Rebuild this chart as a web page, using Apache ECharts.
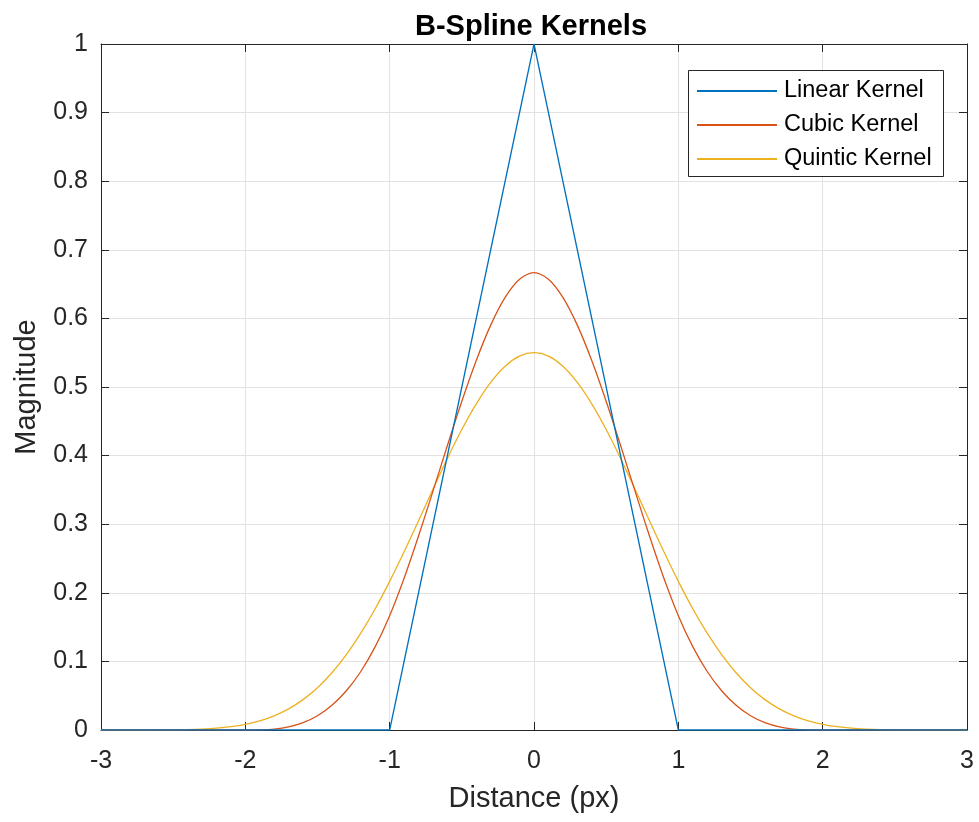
<!DOCTYPE html>
<html>
<head>
<meta charset="utf-8">
<script src="https://cdn.jsdelivr.net/npm/echarts@6/dist/echarts.min.js"></script>
<style>html,body{margin:0;padding:0;background:#fff;}#c{width:979px;height:822px;}</style>
</head>
<body>
<div id="c"></div>
<script>
// Data
const linearX = [-3, -1, 0, 1, 3];
const linearY = [0, 0, 1, 0, 0];

// sample positions for the smooth kernels (step 0.1 from -3 to 3)
const curveX = [-3.0,-2.9,-2.8,-2.7,-2.6,-2.5,-2.4,-2.3,-2.2,-2.1,-2.0,-1.9,-1.8,-1.7,-1.6,-1.5,-1.4,-1.3,-1.2,-1.1,-1.0,-0.9,-0.8,-0.7,-0.6,-0.5,-0.4,-0.3,-0.2,-0.1,0.0,0.1,0.2,0.3,0.4,0.5,0.6,0.7,0.8,0.9,1.0,1.1,1.2,1.3,1.4,1.5,1.6,1.7,1.8,1.9,2.0,2.1,2.2,2.3,2.4,2.5,2.6,2.7,2.8,2.9,3.0];

const cubicY = [0,0,0,0,0,0,0,0,0,0,
  0,0.0002,0.0013,0.0045,0.0107,0.0208,0.0360,0.0572,0.0853,0.1215,
  0.1667,0.2212,0.2827,0.3482,0.4147,0.4792,0.5387,0.5902,0.6307,0.6572,
  0.6667,
  0.6572,0.6307,0.5902,0.5387,0.4792,0.4147,0.3482,0.2827,0.2212,0.1667,
  0.1215,0.0853,0.0572,0.0360,0.0208,0.0107,0.0045,0.0013,0.0002,0,
  0,0,0,0,0,0,0,0,0,0];

const quinticY = [0,0,0,0.00002,0.0001,0.0003,0.0006,0.0014,0.0027,0.0049,
  0.0083,0.0134,0.0207,0.0308,0.0443,0.0617,0.0835,0.1099,0.1411,0.1768,
  0.2167,0.2598,0.3051,0.3510,0.3959,0.4380,0.4755,0.5068,0.5304,0.5450,
  0.5500,
  0.5450,0.5304,0.5068,0.4755,0.4380,0.3959,0.3510,0.3051,0.2598,0.2167,
  0.1768,0.1411,0.1099,0.0835,0.0617,0.0443,0.0308,0.0207,0.0134,0.0083,
  0.0049,0.0027,0.0014,0.0006,0.0003,0.0001,0.00002,0,0,0];

const seriesNames = ['Linear Kernel', 'Cubic Kernel', 'Quintic Kernel'];
const titleText = 'B-Spline Kernels';
const xName = 'Distance (px)';
const yName = 'Magnitude';

const pairs = (xs, ys) => xs.map((x, i) => [x, ys[i]]);

const FONT = 'Liberation Sans, Arial, Helvetica, sans-serif';
const AX = '#262626';
const chart = echarts.init(document.getElementById('c'), null, {renderer: 'canvas'});

const axisLine = {show: true, onZero: false, lineStyle: {color: AX, width: 1}};
const axisTick = {show: true, inside: true, length: 8, lineStyle: {color: AX}};
const grid = {show: true, lineStyle: {color: '#e2e2e2', width: 1}};

chart.setOption({
  animation: false,
  backgroundColor: '#ffffff',
  title: {
    text: titleText, left: 526, top: 7, textAlign: 'center',
    textStyle: {fontFamily: FONT, fontWeight: 'bold', fontSize: 29, color: '#000'}
  },
  grid: {left: 101, right: 12, top: 44, bottom: 92, containLabel: false},
  legend: {
    orient: 'vertical', left: 697, top: 79, itemGap: 10, z: 10, padding: 0,
    itemWidth: 80, itemHeight: 2, icon: 'rect',
    data: seriesNames,
    textStyle: {fontFamily: FONT, fontSize: 23.5, color: '#000', lineHeight: 23, padding: [0, 0, 0, 2]}
  },
  graphic: [{
    type: 'rect', left: 688, top: 70, z: 1,
    shape: {width: 255, height: 106},
    style: {fill: '#fff', stroke: AX, lineWidth: 1}
  }],
  xAxis: [{
    type: 'value', min: -3, max: 3, interval: 1, position: 'bottom',
    name: xName, nameLocation: 'middle', nameGap: 54,
    nameTextStyle: {fontFamily: FONT, fontSize: 29, color: AX},
    axisLabel: {fontFamily: FONT, fontSize: 25, color: AX, margin: 19},
    splitLine: grid, axisLine, axisTick
  }, {
    type: 'value', min: -3, max: 3, interval: 1, position: 'top',
    axisLabel: {show: false}, splitLine: {show: false}, axisLine, axisTick
  }],
  yAxis: [{
    type: 'value', min: 0, max: 1, interval: 0.1, position: 'left',
    name: yName, nameLocation: 'middle', nameGap: 60, nameRotate: 90,
    nameTextStyle: {fontFamily: FONT, fontSize: 29, color: AX},
    axisLabel: {fontFamily: FONT, fontSize: 25, color: AX, margin: 13},
    splitLine: grid, axisLine, axisTick
  }, {
    type: 'value', min: 0, max: 1, interval: 0.1, position: 'right',
    axisLabel: {show: false}, splitLine: {show: false}, axisLine, axisTick
  }],
  series: [{
    name: seriesNames[0], type: 'line', data: pairs(linearX, linearY),
    showSymbol: false, symbol: 'none', color: '#0072BD',
    lineStyle: {width: 1.3, color: '#0072BD'}, z: 3
  }, {
    name: seriesNames[1], type: 'line', data: pairs(curveX, cubicY),
    showSymbol: false, symbol: 'none', color: '#D95319', smooth: 0.3,
    lineStyle: {width: 1.3, color: '#D95319'}, z: 2
  }, {
    name: seriesNames[2], type: 'line', data: pairs(curveX, quinticY),
    showSymbol: false, symbol: 'none', color: '#EDB120', smooth: 0.3,
    lineStyle: {width: 1.3, color: '#EDB120'}, z: 1
  }]
});
</script>
</body>
</html>
